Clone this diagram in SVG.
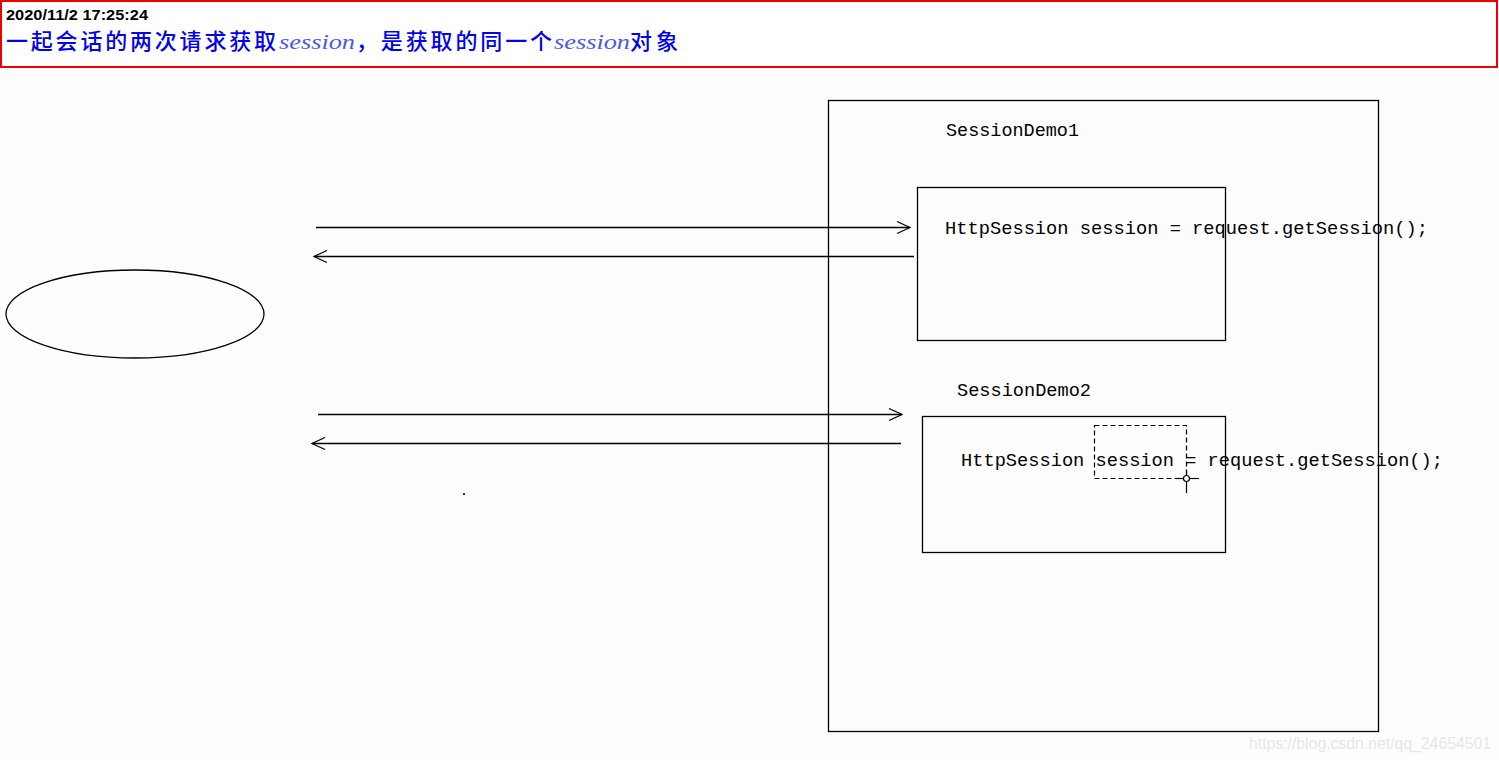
<svg xmlns="http://www.w3.org/2000/svg" width="1499" height="760" viewBox="0 0 1499 760">
<style>
.ln{stroke:#000;stroke-width:1.3;fill:none}
.code{font-family:"Liberation Mono","DejaVu Sans Mono",monospace;font-size:18px;fill:#000}
.cn{font-family:"Noto Sans CJK SC","Noto Sans",sans-serif;font-size:22px;font-weight:500;fill:#0000ee}
.ss{font-family:"Liberation Serif",serif;font-style:italic;font-size:21px;fill:#4a5ae8}
</style>
<defs>
<marker id="open" markerWidth="16" markerHeight="14" refX="14" refY="7" orient="auto" markerUnits="userSpaceOnUse">
<path d="M1,1 L14,7 L1,13" fill="none" stroke="#000" stroke-width="1.2"/>
</marker>
</defs>
<rect width="1499" height="760" fill="#fdfdfd"/>
<g id="header">
<rect x="1" y="1" width="1496" height="66" fill="#fff" stroke="#ee0000" stroke-width="2"/>
<text x="6" y="20" font-family="Liberation Sans,Arial,sans-serif" font-size="14" font-weight="bold" fill="#000" textLength="142" lengthAdjust="spacingAndGlyphs">2020/11/2 17:25:24</text>
<text y="49"><tspan class="cn" x="6" textLength="270" lengthAdjust="spacing">一起会话的两次请求获取</tspan><tspan class="ss" x="279" textLength="76" lengthAdjust="spacingAndGlyphs">session</tspan><tspan class="cn" x="356" textLength="196" lengthAdjust="spacing">，是获取的同一个</tspan><tspan class="ss" x="554" textLength="76" lengthAdjust="spacingAndGlyphs">session</tspan><tspan class="cn" x="630" textLength="48" lengthAdjust="spacing">对象</tspan></text>
</g>
<g id="client">
<ellipse cx="135" cy="314" rx="129" ry="44" class="ln"/>
</g>
<g id="server">
<rect x="828.5" y="100.5" width="550" height="631" class="ln"/>
</g>
<g id="demo1">
<text class="code" x="946" y="136" textLength="133" lengthAdjust="spacingAndGlyphs">SessionDemo1</text>
<rect x="917.5" y="187.5" width="308" height="153" class="ln"/>
<text class="code" x="945" y="234" textLength="483" lengthAdjust="spacingAndGlyphs">HttpSession session = request.getSession();</text>
</g>
<g id="demo2">
<text class="code" x="957" y="396" textLength="134" lengthAdjust="spacingAndGlyphs">SessionDemo2</text>
<rect x="922.5" y="416.5" width="303" height="136" class="ln"/>
<text class="code" x="961" y="466" textLength="482" lengthAdjust="spacingAndGlyphs">HttpSession session = request.getSession();</text>
<rect x="1094.5" y="425.5" width="92" height="53" fill="none" stroke="#000" stroke-width="1.2" stroke-dasharray="5,3"/>
<g id="cursor" stroke="#000" stroke-width="1.2" fill="none">
<line x1="1176" y1="478.5" x2="1199" y2="478.5"/>
<line x1="1186.5" y1="470" x2="1186.5" y2="493"/>
<circle cx="1186.5" cy="478.5" r="3" fill="#fff"/>
</g>
</g>
<g id="connectors">
<line x1="316" y1="227.5" x2="910" y2="227.5" class="ln" marker-end="url(#open)"/>
<line x1="914" y1="256.5" x2="314" y2="256.5" class="ln" marker-end="url(#open)"/>
<line x1="318" y1="414.5" x2="902" y2="414.5" class="ln" marker-end="url(#open)"/>
<line x1="901" y1="443.5" x2="312" y2="443.5" class="ln" marker-end="url(#open)"/>
</g>
<rect x="463" y="493" width="2" height="2" fill="#333"/>
<text x="1249" y="749" font-family="Liberation Sans,Arial,sans-serif" font-size="16" fill="#e6e6e6" textLength="242" lengthAdjust="spacingAndGlyphs">https://blog.csdn.net/qq_24654501</text>
</svg>
